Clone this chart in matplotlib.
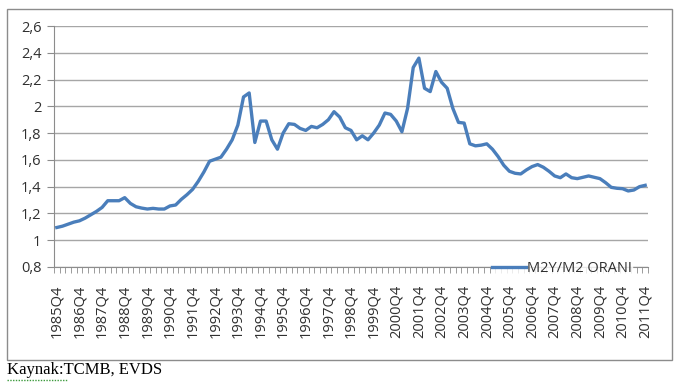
import numpy as np
import matplotlib
matplotlib.use('Agg')
import matplotlib.pyplot as plt
from matplotlib.patches import Rectangle
from matplotlib.lines import Line2D

# Ceyrekler: 1985Q4 - 2011Q4
yillar = list(range(1985, 2012))
ceyrekler = ['1985Q4'] + [f'{y}Q{q}' for y in yillar[1:] for q in (1, 2, 3, 4)]

oran = [1.095, 1.105, 1.12, 1.135, 1.145, 1.165, 1.19, 1.215, 1.245, 1.295,
        1.295, 1.295, 1.318, 1.275, 1.25, 1.24, 1.233, 1.238, 1.233, 1.233,
        1.256, 1.263, 1.305, 1.34, 1.38, 1.44, 1.51, 1.59, 1.605, 1.62,
        1.68, 1.75, 1.86, 2.07, 2.10, 1.73, 1.89, 1.89, 1.75, 1.68,
        1.80, 1.87, 1.865, 1.835, 1.82, 1.85, 1.84, 1.865, 1.90, 1.96,
        1.92, 1.84, 1.82, 1.75, 1.78, 1.75, 1.80, 1.86, 1.95, 1.94,
        1.89, 1.81, 1.985, 2.29, 2.36, 2.135, 2.11, 2.26, 2.18, 2.135,
        1.985, 1.88, 1.875, 1.72, 1.705, 1.71, 1.72, 1.68, 1.625, 1.56,
        1.515, 1.50, 1.495, 1.525, 1.55, 1.565, 1.545, 1.515, 1.48, 1.467,
        1.495, 1.467, 1.46, 1.47, 1.48, 1.47, 1.46, 1.43, 1.395, 1.388,
        1.385, 1.368, 1.375, 1.40, 1.41]

y_ticks = [0.8, 1.0, 1.2, 1.4, 1.6, 1.8, 2.0, 2.2, 2.4, 2.6]
y_labels = ['0,8', '1', '1,2', '1,4', '1,6', '1,8', '2', '2,2', '2,4', '2,6']

W, H = 685, 389
fig = plt.figure(figsize=(W / 100, H / 100), dpi=100)

# dis cerceve
fig.patches.append(Rectangle((7 / W, 1 - 360 / H), 665 / W, 351 / H,
                             transform=fig.transFigure, fill=False,
                             edgecolor='#8c8c8c', linewidth=1))

ax = fig.add_axes([54 / W, 1 - 267 / H, 594 / W, 241 / H])
x = np.arange(len(ceyrekler))
ax.plot(x, oran, color='#4a7ebb', linewidth=2.4, label='M2Y/M2 ORANI',
        solid_joinstyle='round', zorder=3)

ax.set_ylim(0.8, 2.6)
ax.set_xlim(-0.5, len(ceyrekler) - 0.5)
ax.set_yticks(y_ticks)
ax.set_yticklabels(y_labels)
ax.grid(axis='y', color='#a6a6a6', linewidth=1)
ax.set_axisbelow(True)

for s in ['top', 'right']:
    ax.spines[s].set_visible(False)
ax.spines['left'].set_color('#8c8c8c')
ax.spines['bottom'].set_color('#8c8c8c')

etiket_idx = [i for i, c in enumerate(ceyrekler) if c.endswith('Q4')]
ax.set_xticks(etiket_idx)
ax.set_xticklabels([ceyrekler[i] for i in etiket_idx], rotation=90)
ax.set_xticks(np.arange(-0.5, len(ceyrekler), 1), minor=True)
ax.tick_params(axis='x', which='major', length=0, pad=13, labelsize=10.5,
               labelcolor='#303030')
ax.tick_params(axis='x', which='minor', length=4, color='#8c8c8c', direction='out')
ax.tick_params(axis='y', length=5, color='#8c8c8c', labelsize=10.5,
               labelcolor='#303030', pad=4)
for lab in ax.get_xticklabels() + ax.get_yticklabels():
    lab.set_family('Open Sans')

leg = fig.legend(loc='center left', bbox_to_anchor=(492 / W, 1 - 269 / H),
                 frameon=True, fancybox=False, handlelength=2.3,
                 handletextpad=0.1, borderpad=0.0, borderaxespad=0,
                 prop={'family': 'Open Sans', 'size': 10.5})
leg.get_frame().set_facecolor('white')
leg.get_frame().set_edgecolor('white')
for t in leg.get_texts():
    t.set_color('#303030')

fig.text(7 / W, 1 - 370 / H, 'Kaynak:TCMB, EVDS', family='Liberation Serif',
         fontsize=12, va='center', ha='left', color='black')
fig.lines.append(Line2D([7 / W, 68 / W], [1 - 380 / H, 1 - 380 / H],
                        transform=fig.transFigure, color='#3c9a3c',
                        linewidth=1, linestyle=(0, (1, 1))))

fig.savefig('out.png', dpi=100)
